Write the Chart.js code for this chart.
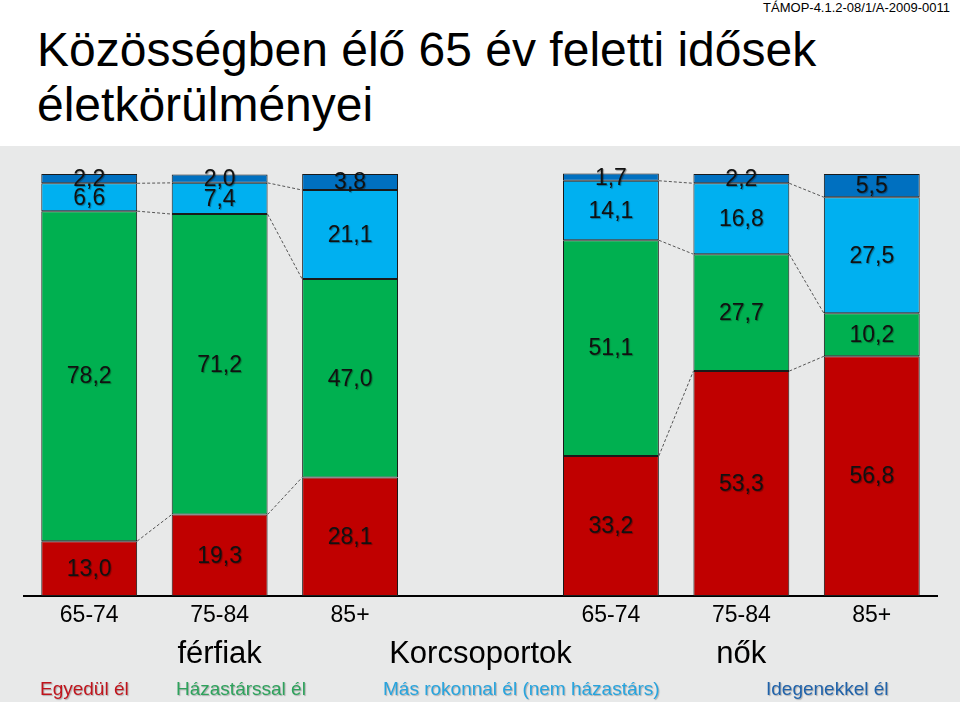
<!DOCTYPE html>
<html lang="hu">
<head>
<meta charset="utf-8">
<script src="https://cdn.jsdelivr.net/npm/chart.js@4/dist/chart.umd.min.js"></script>
<style>
  html, body { margin: 0; padding: 0; width: 960px; height: 702px; overflow: hidden; background: #ffffff; font-family: "Liberation Sans", Arial, sans-serif; }
  #bg { position: absolute; left: 0; top: 146px; width: 960px; height: 556px; background: #E8E9E9; }
  #code { position: absolute; right: 10px; top: 0px; font-size: 13px; line-height: 16px; color: #000; }
  .title { position: absolute; left: 37px; font-size: 48px; line-height: 48px; color: #000; white-space: nowrap; }
  #wrap { position: absolute; left: 0; top: 0; width: 960px; height: 702px; }
  .leg { position: absolute; top: 678px; font-size: 19px; line-height: 22px; white-space: nowrap; text-shadow: 1px 1px 1px rgba(0,0,0,0.25); }
</style>
</head>
<body>
<div id="bg"></div>
<div id="code">TÁMOP-4.1.2-08/1/A-2009-0011</div>
<div class="title" style="top:26px">Közösségben élő 65 év feletti idősek</div>
<div class="title" style="top:81px">életkörülményei</div>
<div id="wrap"><canvas id="c" width="960" height="702"></canvas></div>
<div class="leg" style="left:40px;color:#C0141C">Egyedül él</div>
<div class="leg" style="left:176px;color:#2EA25C">Házastárssal él</div>
<div class="leg" style="left:383px;color:#27A4DE">Más rokonnal él (nem házastárs)</div>
<div class="leg" style="left:766px;color:#1F62AA">Idegenekkel él</div>
<script>
// ---- data ----
const categories = ['65-74', '75-84', '85+', '', '65-74', '75-84', '85+'];
const groupLabels = ['férfiak', 'Korcsoportok', 'nők'];
const groupLabelIndex = [1, 3, 5];
const seriesNames = ['Egyedül él', 'Házastárssal él', 'Más rokonnal él (nem házastárs)', 'Idegenekkel él'];
const egyedul    = [13.0, 19.3, 28.1, null, 33.2, 53.3, 56.8];
const hazastars  = [78.2, 71.2, 47.0, null, 51.1, 27.7, 10.2];
const rokon      = [6.6, 7.4, 21.1, null, 14.1, 16.8, 27.5];
const idegen     = [2.2, 2.0, 3.8, null, 1.7, 2.2, 5.5];
const seriesColors = ['#C00000', '#00B050', '#00B0F0', '#0070C0'];
const seriesLinePairs = [[0, 1], [1, 2], [4, 5], [5, 6]];

const seriesData = [egyedul, hazastars, rokon, idegen];

const valueLabels = {
  id: 'valueLabels',
  afterDatasetsDraw(chart) {
    const ctx = chart.ctx;
    ctx.save();
    ctx.font = '23px "Liberation Sans", Arial, sans-serif';
    ctx.textAlign = 'center';
    ctx.textBaseline = 'middle';
    ctx.fillStyle = '#111';
    ctx.shadowColor = 'rgba(0,0,0,0.35)';
    ctx.shadowOffsetX = 1;
    ctx.shadowOffsetY = 1;
    ctx.shadowBlur = 1;
    chart.data.datasets.forEach((ds, di) => {
      const meta = chart.getDatasetMeta(di);
      meta.data.forEach((el, i) => {
        const v = ds.data[i];
        if (v === null || v === undefined) return;
        const y = (el.y + el.base) / 2;
        ctx.fillText(v.toFixed(1).replace('.', ','), el.x, y + 1);
      });
    });
    ctx.restore();
  }
};

const seriesLines = {
  id: 'seriesLines',
  afterDatasetsDraw(chart) {
    const ctx = chart.ctx;
    ctx.save();
    ctx.strokeStyle = '#555';
    ctx.lineWidth = 1;
    ctx.setLineDash([3, 2]);
    for (let di = 0; di < 3; di++) {
      const meta = chart.getDatasetMeta(di);
      seriesLinePairs.forEach(([a, b]) => {
        const ea = meta.data[a], eb = meta.data[b];
        ctx.beginPath();
        ctx.moveTo(ea.x + ea.width / 2, ea.y);
        ctx.lineTo(eb.x - eb.width / 2, eb.y);
        ctx.stroke();
      });
    }
    ctx.restore();
  }
};

const groupText = {
  id: 'groupText',
  afterDraw(chart) {
    const ctx = chart.ctx;
    const xs = chart.scales.x;
    ctx.save();
    ctx.font = '31px "Liberation Sans", Arial, sans-serif';
    ctx.textAlign = 'center';
    ctx.textBaseline = 'middle';
    ctx.fillStyle = '#000';
    groupLabels.forEach((t, k) => {
      ctx.fillText(t, xs.getPixelForValue(groupLabelIndex[k]), 654);
    });
    ctx.restore();
  }
};

new Chart(document.getElementById('c'), {
  type: 'bar',
  data: {
    labels: categories,
    datasets: seriesData.map((d, k) => ({
      label: seriesNames[k],
      data: d,
      backgroundColor: seriesColors[k],
      borderColor: '#1a1a1a',
      borderWidth: 1,
      borderSkipped: false,
      barPercentage: 0.735,
      categoryPercentage: 1,
      clip: false
    }))
  },
  options: {
    responsive: false,
    animation: false,
    layout: { padding: { left: 24, right: 23, top: 174, bottom: 0 } },
    plugins: { legend: { display: false }, tooltip: { enabled: false } },
    scales: {
      x: {
        stacked: true,
        grid: { display: false, drawTicks: false },
        border: { display: true, color: '#000', width: 2 },
        ticks: { color: '#000', font: { size: 23, family: '"Liberation Sans", Arial, sans-serif' }, padding: 6, maxRotation: 0, autoSkip: false },
        afterFit(s) { s.height = 106; }
      },
      y: {
        stacked: true,
        display: false,
        min: 0,
        max: 100
      }
    }
  },
  plugins: [seriesLines, valueLabels, groupText]
});
</script>
</body>
</html>
